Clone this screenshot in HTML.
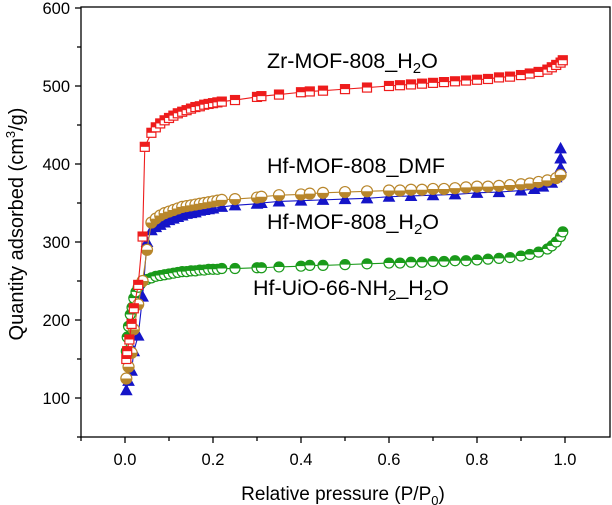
<!DOCTYPE html>
<html><head><meta charset="utf-8"><style>
html,body{margin:0;padding:0;background:#fff;}
svg{display:block;font-family:"Liberation Sans",Arial,sans-serif;}
</style></head><body>
<svg id="chart" width="612" height="505" viewBox="0 0 612 505">
<defs>
<clipPath id="clip"><rect x="81" y="7" width="529" height="430"/></clipPath>
</defs>
<g id="plot" clip-path="url(#clip)"></g>
<rect x="81" y="7" width="529" height="430" fill="none" stroke="#000" stroke-width="1.3"/>
<g id="axes"></g>
<text x="267" y="68" font-size="21.5">Zr-MOF-808_H<tspan font-size="15" dy="5">2</tspan><tspan dy="-5">O</tspan></text>
<text x="267" y="173" font-size="21.5">Hf-MOF-808_DMF</text>
<text x="267" y="229" font-size="21.5">Hf-MOF-808_H<tspan font-size="15" dy="5">2</tspan><tspan dy="-5">O</tspan></text>
<text x="253" y="295" font-size="21.5">Hf-UiO-66-NH<tspan font-size="15" dy="5">2</tspan><tspan dy="-5">_H</tspan><tspan font-size="15" dy="5">2</tspan><tspan dy="-5">O</tspan></text>
<text transform="translate(23,224) rotate(-90)" text-anchor="middle" font-size="20">Quantity adsorbed (cm<tspan font-size="13" dy="-8">3</tspan><tspan dy="8">/g)</tspan></text>
<text x="343" y="500" text-anchor="middle" font-size="19">Relative pressure (P/P<tspan font-size="13" dy="5">0</tspan><tspan dy="-5">)</tspan></text>
</svg>
<script>
const xTicks=[0,0.2,0.4,0.6,0.8,1.0];
const yTicks=[100,200,300,400,500,600];
const zrP=[0.003,0.005,0.01,0.015,0.02,0.03,0.04,0.045,0.06,0.07,0.08,0.09,0.1,0.11,0.12,0.13,0.14,0.15,0.16,0.17,0.18,0.19,0.2,0.21,0.22,0.25,0.3,0.31,0.35,0.4,0.42,0.45,0.5,0.55,0.6,0.625,0.65,0.675,0.7,0.725,0.75,0.775,0.8,0.825,0.85,0.875,0.9,0.92,0.94,0.96,0.97,0.98,0.99,0.995];
const zrV=[150,160,175,195,215,245,307,422,440,447,452,456,459,462,465,467,469,471,473,474,476,477,478,479,480,482,486,487,489,492,493,494,496,498,500,501,502,503,504,505,506,507,508,509,511,512,514,516,518,521,524,527,530,533];
const dmfP=[0.003,0.008,0.015,0.02,0.03,0.04,0.05,0.06,0.07,0.08,0.09,0.1,0.11,0.12,0.13,0.14,0.15,0.16,0.17,0.18,0.19,0.2,0.21,0.22,0.25,0.3,0.31,0.35,0.4,0.42,0.45,0.5,0.55,0.6,0.625,0.65,0.675,0.7,0.725,0.75,0.775,0.8,0.825,0.85,0.875,0.9,0.92,0.94,0.96,0.98,0.99];
const dmfV=[125,140,158,188,220,250,290,325,330,334,337,339,341,343,345,346,347,348,349,350,351,352,353,354,355,357,358,360,361,362,363,364,365,366,366,367,367,368,368,369,370,371,371,372,373,374,375,377,379,382,386];
const hfwP=[0.003,0.008,0.015,0.02,0.03,0.04,0.05,0.06,0.07,0.08,0.09,0.1,0.11,0.12,0.13,0.14,0.15,0.16,0.17,0.18,0.19,0.2,0.22,0.25,0.3,0.31,0.35,0.4,0.45,0.5,0.55,0.6,0.65,0.7,0.75,0.8,0.85,0.9,0.93,0.95,0.97,0.98,0.99,0.99,0.99];
const hfwV=[110,122,135,160,180,230,300,315,319,322,325,328,330,332,334,336,337,338,340,341,342,343,345,347,349,350,352,353,354,355,356,358,359,360,361,363,364,366,368,371,376,383,395,407,420];
const uioP=[0.003,0.005,0.008,0.012,0.016,0.02,0.025,0.03,0.035,0.04,0.05,0.06,0.07,0.08,0.09,0.1,0.11,0.12,0.13,0.14,0.15,0.16,0.17,0.18,0.19,0.2,0.21,0.22,0.25,0.3,0.31,0.35,0.4,0.42,0.45,0.5,0.55,0.6,0.625,0.65,0.675,0.7,0.725,0.75,0.775,0.8,0.825,0.85,0.875,0.9,0.92,0.94,0.96,0.97,0.98,0.99,0.995];
const uioV=[160,178,192,207,216,228,236,242,246,250,252,254,256,257,258,259,260,261,262,262,263,263,264,264,265,265,265,266,266,267,267,268,269,270,270,271,272,273,273,274,274,275,275,276,276,277,278,279,280,282,284,287,291,295,300,307,313];
const NS="http://www.w3.org/2000/svg";
const X=p=>125+p*440, Y=v=>398-(v-100)*0.78;
function mk(t,a,parent){const e=document.createElementNS(NS,t);for(const k in a)e.setAttribute(k,a[k]);parent.appendChild(e);return e;}
const axes=document.getElementById('axes'), plot=document.getElementById('plot');
for(let i=-1;i<=10;i++){const p=i/10;const major=i%2===0;
 const t=mk('line',{x1:X(p),x2:X(p),y1:437,y2:437+(major?6:4),stroke:'#000','stroke-width':1.3},axes);
 
 }
xTicks.forEach(p=>{const t=mk('text',{x:X(p),y:465,'text-anchor':'middle','font-size':16.5},axes);t.textContent=p.toFixed(1);
 
 });
for(let v=50;v<=600;v+=50){const major=v%100===0;
 const t=mk('line',{x1:81-(major?6:4),x2:81,y1:Y(v),y2:Y(v),stroke:'#000','stroke-width':1.3},axes);
 
 }
yTicks.forEach(v=>{const t=mk('text',{x:70,y:Y(v)+6,'text-anchor':'end','font-size':16.5},axes);t.textContent=v;
 
 });
function series(P,V,color,shape,name){
 const g=mk('g',{},plot);
 
 
 mk('polyline',{points:P.map((p,i)=>X(p)+','+Y(V[i])).join(' '),fill:'none',stroke:color,'stroke-width':1.1},g);
 P.forEach((p,i)=>{const x=X(p),y=Y(V[i]);let m;
  if(shape==='sq'){mk('rect',{x:x-4.5,y:y-4.5,width:9,height:9,fill:'#fff',stroke:color,'stroke-width':1.2},g);
   m=mk('rect',{x:x-4.5,y:y-4.5,width:9,height:4.5,fill:color},g);}
  else if(shape==='tri'){m=mk('polygon',{points:`${x},${y-5.5} ${x-5.5},${y+4.5} ${x+5.5},${y+4.5}`,fill:color,stroke:color,'stroke-width':1},g);}
  else if(shape==='circTop'){mk('circle',{cx:x,cy:y,r:5,fill:'#fff',stroke:color,'stroke-width':1.2},g);
   m=mk('path',{d:`M${x-5},${y} A5,5 0 0 1 ${x+5},${y} Z`,fill:color},g);}
  else {mk('circle',{cx:x,cy:y,r:5.5,fill:'#fff',stroke:color,'stroke-width':1.2},g);
   m=mk('path',{d:`M${x-5.5},${y} A5.5,5.5 0 0 0 ${x+5.5},${y} Z`,fill:color},g);}
  
  
 });
}
series(uioP,uioV,'#1a9a1a','circTop','series-hf-uio-66-nh2');
series(hfwP,hfwV,'#1515c8','tri','series-hf-mof-808-h2o');
series(dmfP,dmfV,'#b8862b','circBot','series-hf-mof-808-dmf');
series(zrP,zrV,'#ee1c1c','sq','series-zr-mof-808-h2o');
</script>
</body></html>
